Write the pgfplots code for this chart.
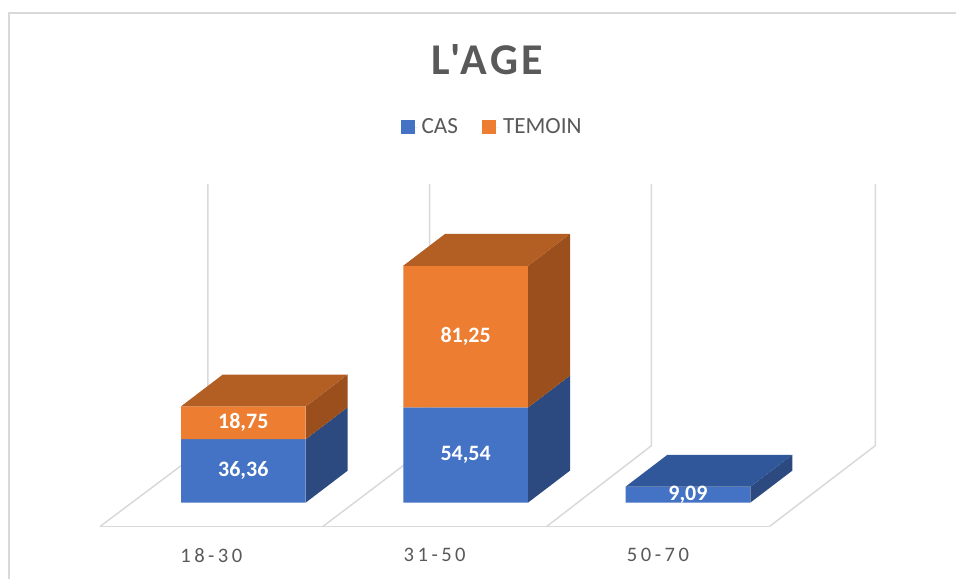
\documentclass[border=0pt]{standalone}
\usepackage{fontspec}
\setmainfont{Carlito}
\usepackage{pgfplots}
\pgfplotsset{compat=1.18}
\definecolor{cblue}{HTML}{4472C4}
\definecolor{cblueside}{HTML}{2C4A80}
\definecolor{cbluetop}{HTML}{30579A}
\definecolor{corange}{HTML}{ED7D31}
\definecolor{corangetop}{HTML}{B35E23}
\definecolor{corangeside}{HTML}{9A4F1D}
\definecolor{cgrid}{HTML}{D9D9D9}
\definecolor{ctext}{HTML}{595959}
\begin{document}
\begin{tikzpicture}
\begin{axis}[
  scale only axis, width=478.5pt, height=289.5pt,
  xmin=-1.0944, xmax=3.2067, ymin=-43.553, ymax=288.252,
  hide axis, clip=false,
  legend columns=2,
  legend style={at={(0.5157,0.7798)}, anchor=center, draw=none, fill=none,
    font=\fontsize{11.6}{13}\selectfont, text=ctext,
    /tikz/every even column/.append style={column sep=10pt},
    inner sep=0pt, cells={anchor=west}},
  legend image code/.code={\fill[#1] (0pt,-3.5pt) rectangle (7pt,3.5pt); \path (0pt,0pt) -- (8.5pt,0pt);},
]
% frame
\path (rel axis cs:0,0) rectangle (rel axis cs:1,1);
\draw[cgrid, line width=0.8pt] (rel axis cs:0.0094,0) -- (rel axis cs:0.0094,0.97755) -- (rel axis cs:1,0.97755);
% floor and wall lines
\addplot[cgrid, line width=0.75pt, forget plot] coordinates {(-0.6449,-13.75) (2.3663,-13.75)};
\addplot[cgrid, line width=0.75pt, forget plot] coordinates {(-0.6449,-13.75) (-0.1596,32.66) (-0.1596,182.8)};
\addplot[cgrid, line width=0.75pt, forget plot] coordinates {(0.3573,-13.75) (0.8382,32.66) (0.8382,182.8)};
\addplot[cgrid, line width=0.75pt, forget plot] coordinates {(1.3640,-13.75) (1.8360,32.66) (1.8360,182.8)};
\addplot[cgrid, line width=0.75pt, forget plot] coordinates {(2.3663,-13.75) (2.8427,32.66) (2.8427,182.8)};
% front faces (stacked bars)
\addplot[ybar, stack plots=y, bar width=62.25pt, bar shift=0pt, fill=cblue, draw=none]
  coordinates {(0,36.36) (1,54.54) (2,9.09)};
\addlegendentry{CAS}
\addplot[ybar, stack plots=y, bar width=62.25pt, bar shift=0pt, fill=corange, draw=none]
  coordinates {(0,18.75) (1,81.25) (2,0)};
\addlegendentry{TEMOIN}
% depth faces: bar 18-30
\addplot[fill=cblueside, draw=none, forget plot] coordinates {(0.2809,0) (0.4697,18.34) (0.4697,54.70) (0.2809,36.36)} -- cycle;
\addplot[fill=corangeside, draw=none, forget plot] coordinates {(0.2809,36.36) (0.4697,54.70) (0.4697,73.45) (0.2809,55.11)} -- cycle;
\addplot[fill=corangetop, draw=none, forget plot] coordinates {(-0.2809,55.11) (-0.0921,73.45) (0.4697,73.45) (0.2809,55.11)} -- cycle;
% bar 31-50
\addplot[fill=cblueside, draw=none, forget plot] coordinates {(1.2809,0) (1.4697,18.34) (1.4697,72.88) (1.2809,54.54)} -- cycle;
\addplot[fill=corangeside, draw=none, forget plot] coordinates {(1.2809,54.54) (1.4697,72.88) (1.4697,154.13) (1.2809,135.79)} -- cycle;
\addplot[fill=corangetop, draw=none, forget plot] coordinates {(0.7191,135.79) (0.9079,154.13) (1.4697,154.13) (1.2809,135.79)} -- cycle;
% bar 50-70
\addplot[fill=cblueside, draw=none, forget plot] coordinates {(2.2809,0) (2.4697,18.34) (2.4697,27.43) (2.2809,9.09)} -- cycle;
\addplot[fill=cbluetop, draw=none, forget plot] coordinates {(1.7191,9.09) (1.9079,27.43) (2.4697,27.43) (2.2809,9.09)} -- cycle;
% value labels
\begin{scope}[every node/.style={text=white, font=\fontsize{11}{13}\selectfont\bfseries}]
\node at (axis cs:0,18.18) {36,36};
\node at (axis cs:0,45.74) {18,75};
\node at (axis cs:1,27.27) {54,54};
\node at (axis cs:1,95.17) {81,25};
\node at (axis cs:2,4.545) {9,09};
\end{scope}
% category labels
\begin{scope}[every node/.style={text=ctext, font=\fontsize{10.3}{12}\selectfont\addfontfeature{LetterSpace=17}}]
\node at (axis cs:-0.1438,-30.09) {18-30};
\node at (axis cs:0.8607,-30.09) {31-50};
\node at (axis cs:1.8652,-30.09) {50-70};
\end{scope}
% title
\node[text=ctext, font=\fontsize{22}{26}\selectfont\bfseries\addfontfeature{LetterSpace=8}] at (rel axis cs:0.5099,0.8964) {L\textquotesingle AGE};
\end{axis}
\end{tikzpicture}
\end{document}
